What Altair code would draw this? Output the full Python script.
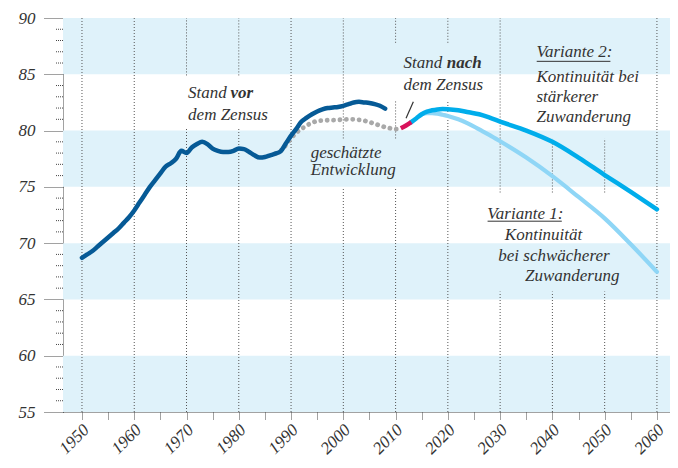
import altair as alt
import pandas as pd

FONT = "Liberation Serif"
TXT = "#333333"

# ---- data (millions of inhabitants) ----
vor_years = list(range(1950, 2009))
vor_vals = [68.7, 69.0, 69.3, 69.7, 70.1, 70.5, 70.9, 71.3, 71.8, 72.3,
            72.9, 73.6, 74.3, 75.0, 75.6, 76.2, 76.8, 77.1, 77.5, 78.2,
            78.0, 78.5, 78.8, 79.0, 78.8, 78.4, 78.2, 78.1, 78.1, 78.2,
            78.4, 78.35, 78.1, 77.8, 77.6, 77.65, 77.8, 77.95, 78.15, 78.85,
            79.55, 80.15, 80.8, 81.15, 81.45, 81.7, 81.88, 82.0, 82.05, 82.1,
            82.2, 82.35, 82.5, 82.55, 82.5, 82.45, 82.35, 82.2, 81.95]

est_years = list(range(1987, 2012))
est_vals = [77.95, 78.2, 78.7, 79.3, 79.8, 80.15, 80.45, 80.7, 80.85, 80.9,
            80.92, 80.93, 80.95, 80.98, 81.0, 81.0, 80.95, 80.88, 80.75, 80.6,
            80.45, 80.3, 80.2, 80.12, 80.2]

nach_years = [2011, 2012, 2013]
nach_vals = [80.2, 80.45, 80.75]

v2_years = [2013, 2014, 2015, 2016, 2017, 2018, 2019, 2020, 2022, 2024, 2026,
            2028, 2030, 2035, 2040, 2045, 2050, 2055, 2060]
v2_vals = [80.75, 81.1, 81.45, 81.68, 81.8, 81.88, 81.92, 81.9, 81.8, 81.62,
           81.45, 81.15, 80.8, 80.0, 79.0, 77.6, 76.05, 74.55, 73.0]

v1_years = [2015, 2016, 2017, 2018, 2019, 2020, 2022, 2024, 2026, 2028, 2030,
            2035, 2040, 2045, 2050, 2055, 2060]
v1_vals = [81.45, 81.55, 81.55, 81.5, 81.4, 81.3, 81.0, 80.6, 80.1, 79.6,
           79.05, 77.6, 75.95, 74.1, 72.2, 69.9, 67.45]

y_ticks = [55, 60, 65, 70, 75, 80, 85, 90]
x_ticks = list(range(1950, 2061, 5))
decades = list(range(1950, 2061, 10))
band_lo = [55, 65, 75, 85]
band_hi = [60, 70, 80, 90]

# text annotations: (text, year, value)
ann_normal = [
    ("Stand", 1970.3, 83.35), ("dem Zensus", 1970.3, 81.4),
    ("geschätzte", 1993.75, 78.05), ("Entwicklung", 1993.75, 76.5),
    ("Stand", 2011.5, 86.0), ("dem Zensus", 2011.5, 84.05),
    ("Variante 2:", 2036.95, 86.95), ("Kontinuität bei", 2036.95, 84.75),
    ("stärkerer", 2036.95, 82.95), ("Zuwanderung", 2036.95, 81.25),
    ("Variante 1:", 2027.55, 72.56), ("Kontinuität", 2030.9, 70.68),
    ("bei schwächerer", 2029.65, 68.82), ("Zuwanderung", 2034.75, 67.04),
]
ann_bold = [("vor", 1978.4, 83.35), ("nach", 2019.8, 86.0)]
underlines = [(2037.0, 2051.1, 86.15), (2027.6, 2041.8, 71.95)]
leader = [(2013.4, 2012.0, 82.55, 81.1)]

# areas where grid lines are hidden behind text (year1, year2, v1, v2)
masks = [
    (1968.5, 1988.0, 80.3, 84.9),
    (1993.0, 2011.0, 74.9, 79.3),
    (2009.0, 2029.0, 82.6, 87.8),
    (2036.0, 2055.0, 79.3, 90.0),
    (2027.0, 2052.0, 65.7, 74.5),
]

# ---- build tables ----
def series(years, vals):
    return pd.DataFrame({"year": years, "v": vals})

grid_rows = []
for g in decades:
    cuts = sorted([(m[2], m[3]) for m in masks if m[0] <= g <= m[1]])
    lo = 55.0
    for a, b in cuts:
        if a > lo:
            grid_rows.append({"year": g, "v": lo, "v2": a})
        lo = max(lo, b)
    if lo < 90:
        grid_rows.append({"year": g, "v": lo, "v2": 90.0})
grid_df = pd.DataFrame(grid_rows)

minor_df = pd.DataFrame({"v": [v for v in range(55, 91) if v % 5 != 0]})
band_df = pd.DataFrame({"v": band_lo, "v2": band_hi})
ann_n_df = pd.DataFrame(ann_normal, columns=["t", "year", "v"])
ann_b_df = pd.DataFrame(ann_bold, columns=["t", "year", "v"])
ul_df = pd.DataFrame(underlines, columns=["year", "year2", "v"])
ld_df = pd.DataFrame(leader, columns=["year", "year2", "v", "v2"])

PLOT_W, PLOT_H = 607, 394

xscale = alt.Scale(domain=[1946.37, 2062.5], nice=False, zero=False)
yscale = alt.Scale(domain=[55, 90], nice=False, zero=False)

xaxis = alt.Axis(values=x_ticks, title=None, grid=False,
                 labelExpr="datum.value % 10 == 0 ? datum.label : ''",
                 labelAngle=-45, labelAlign="right", labelBaseline="middle",
                 labelFont=FONT, labelFontStyle="italic", labelFontSize=17,
                 labelColor=TXT, labelPadding=8, labelOffset=4,
                 labelOverlap=False, labelFlush=False,
                 tickSize=7, tickColor="#444", tickDash=[1, 1], tickWidth=1,
                 domainColor="#444", domainDash=[1, 1], domainWidth=1, format="d")
yaxis = alt.Axis(values=y_ticks, title=None, grid=False,
                 labelFont=FONT, labelFontStyle="italic", labelFontSize=17,
                 labelColor=TXT, labelPadding=8,
                 tickSize=20, tickColor="#444", tickDash=[1, 1], tickWidth=1,
                 domainColor="#444", domainDash=[1, 1], domainWidth=1)

X = alt.X("year:Q", scale=xscale, axis=xaxis)
Y = alt.Y("v:Q", scale=yscale, axis=yaxis)

bands = alt.Chart(band_df).mark_rect(color="#dff2fa").encode(
    x=alt.value(0), x2=alt.value(PLOT_W), y=Y, y2="v2:Q")

grid = alt.Chart(grid_df).mark_rule(color="#555", strokeDash=[1, 2], strokeWidth=1).encode(
    x=X, y=Y, y2="v2:Q")

minor = alt.Chart(minor_df).mark_rule(color="#444", strokeDash=[1, 1], strokeWidth=1).encode(
    x=alt.value(-7), x2=alt.value(0), y=Y)

est = alt.Chart(series(est_years, est_vals)).mark_line(
    color="#a9a9a9", strokeWidth=4.8, strokeDash=[0.1, 6.3], strokeCap="round",
    interpolate="monotone").encode(x=X, y=Y)

vor = alt.Chart(series(vor_years, vor_vals)).mark_line(
    color="#065a96", strokeWidth=4.5, strokeCap="round", interpolate="monotone").encode(x=X, y=Y)

v1 = alt.Chart(series(v1_years, v1_vals)).mark_line(
    color="#8fd6f6", strokeWidth=4.2, strokeCap="round", interpolate="monotone").encode(x=X, y=Y)

v2 = alt.Chart(series(v2_years, v2_vals)).mark_line(
    color="#00adeb", strokeWidth=4.5, strokeCap="round", interpolate="monotone").encode(x=X, y=Y)

nach = alt.Chart(series(nach_years, nach_vals)).mark_line(
    color="#d8125b", strokeWidth=4.5, strokeCap="butt", interpolate="monotone").encode(x=X, y=Y)

ld = alt.Chart(ld_df).mark_rule(color=TXT, strokeWidth=1.2).encode(
    x=X, x2="year2:Q", y=Y, y2="v2:Q")

txt_n = alt.Chart(ann_n_df).mark_text(
    font=FONT, fontStyle="italic", fontSize=17, align="left", baseline="middle",
    color=TXT).encode(x=X, y=Y, text="t:N")

txt_b = alt.Chart(ann_b_df).mark_text(
    font=FONT, fontStyle="italic", fontWeight="bold", fontSize=17, align="left",
    baseline="middle", color=TXT).encode(x=X, y=Y, text="t:N")

ul = alt.Chart(ul_df).mark_rule(color=TXT, strokeWidth=1).encode(
    x=X, x2="year2:Q", y=Y)

chart = alt.layer(bands, grid, minor, est, vor, v1, v2, nach, ld, txt_n, txt_b, ul).properties(
    width=PLOT_W, height=PLOT_H,
    autosize=alt.AutoSizeParams(type="none"),
    padding={"left": 55, "top": 10, "right": 0, "bottom": 46},
    background="white",
).configure_view(stroke=None)

chart.save("out.html", embed_options={"renderer": "svg", "actions": False})
